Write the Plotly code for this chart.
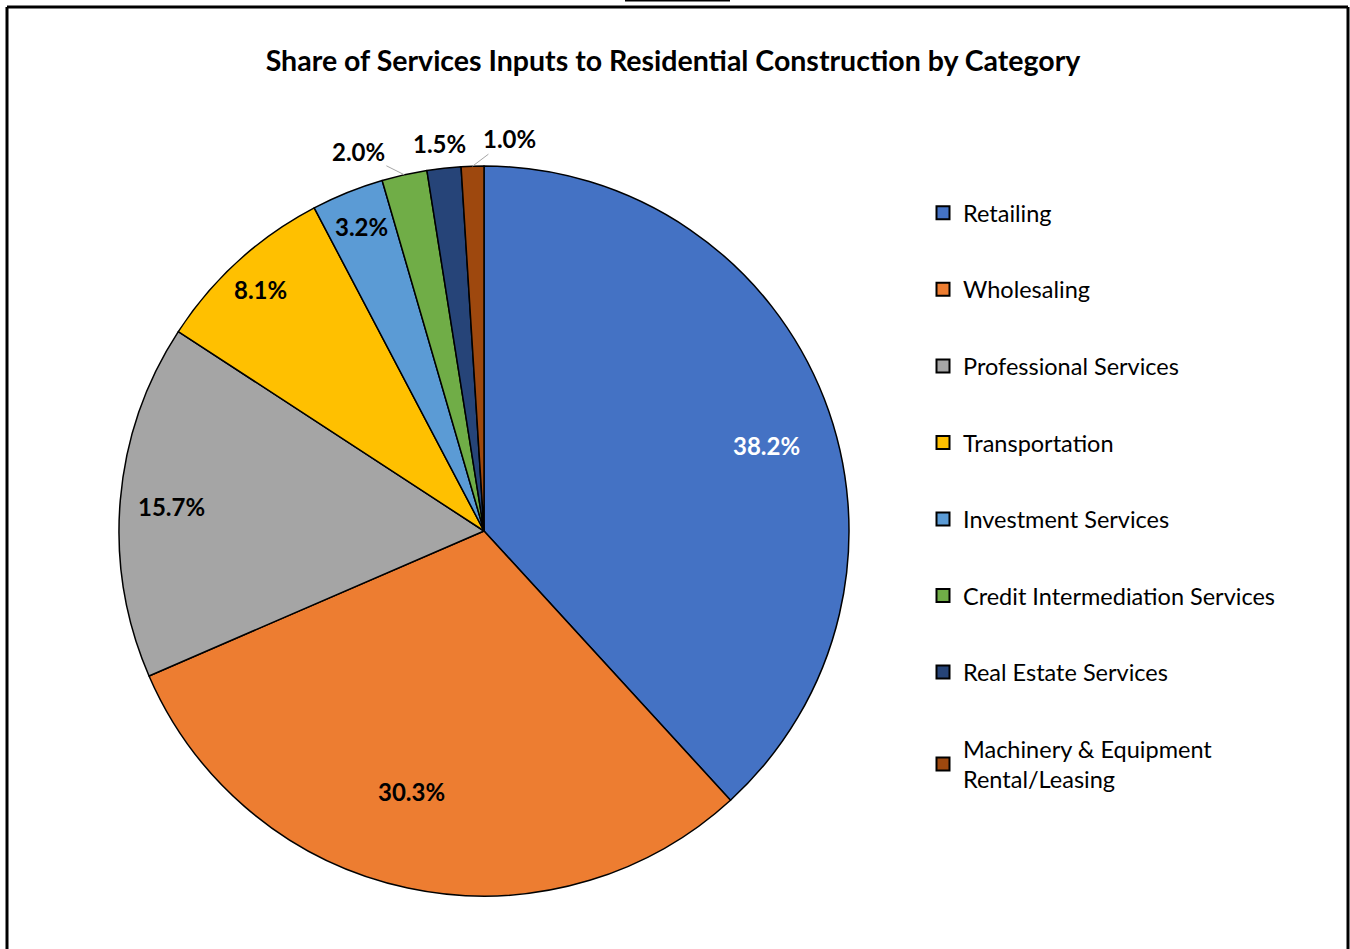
import math
import plotly.graph_objs as go

W, H = 1350, 949

categories = [
    "Retailing",
    "Wholesaling",
    "Professional Services",
    "Transportation",
    "Investment Services",
    "Credit Intermediation Services",
    "Real Estate Services",
    "Machinery & Equipment<br>Rental/Leasing",
]
shares = [38.2, 30.3, 15.7, 8.1, 3.2, 2.0, 1.5, 1.0]
colors = ["#4472C4", "#ED7D31", "#A5A5A5", "#FFC000",
          "#5B9BD5", "#70AD47", "#264478", "#9E480E"]

# pie geometry in pixels
CX, CY, R = 484, 531, 365

# label placement: radial fraction and angle nudge (deg) for inside labels,
# pixel offset (dx, dy) from the slice edge for outside ones
inside_r = [0.81, 0.74, 0.86, 0.90, 0.90]
inside_dang = [4.4, 3.6, -0.3, -0.5, 0.0]
outside_off = [(-46, -23), (-4, -25), (37, -28)]
outside_leader = [True, False, True]


def px_x(v):
    return v / W


def px_y(v):
    return 1 - v / H


fig = go.Figure()

fig.add_trace(go.Pie(
    labels=categories,
    values=shares,
    sort=False,
    direction="clockwise",
    rotation=0,
    marker=dict(colors=colors, line=dict(color="black", width=1.5)),
    textinfo="none",
    domain=dict(x=[px_x(CX - R), px_x(CX + R)], y=[px_y(CY + R), px_y(CY - R)]),
    showlegend=False,
    hoverinfo="label+percent",
))

# data labels, placed around the middle angle of each slice
annotations = []
total = sum(shares)
cum = 0.0
for i, s in enumerate(shares):
    mid = (cum + s / 2) / total * 2 * math.pi
    cum += s
    txt = "<b>%.1f%%</b>" % s
    if i < len(inside_r):
        a = mid + math.radians(inside_dang[i])
        r = inside_r[i] * R
        annotations.append(dict(
            x=px_x(CX + r * math.sin(a)), y=px_y(CY - r * math.cos(a)),
            xref="paper", yref="paper", text=txt, showarrow=False,
            xanchor="center", yanchor="middle",
            font=dict(family="Lato", size=24,
                      color="white" if i == 0 else "black"),
        ))
    else:
        j = i - len(inside_r)
        dx, dy = outside_off[j]
        annotations.append(dict(
            x=px_x(CX + R * math.sin(mid)), y=px_y(CY - R * math.cos(mid)),
            xref="paper", yref="paper", text=txt, showarrow=True,
            ax=dx, ay=dy, arrowhead=0, arrowwidth=1,
            arrowcolor="#A6A6A6" if outside_leader[j] else "rgba(0,0,0,0)",
            font=dict(family="Lato", size=24, color="black"),
        ))

# legend entries, one group each so the gap between them can be set
for name, c in zip(categories, colors):
    fig.add_trace(go.Scatter(
        x=[None], y=[None], mode="markers", name=name, legendgroup=name,
        marker=dict(symbol="square", size=13, color=c,
                    line=dict(color="black", width=2)),
    ))

fig.update_layout(
    width=W, height=H,
    margin=dict(l=0, r=0, t=0, b=0),
    paper_bgcolor="white",
    plot_bgcolor="white",
    title=dict(
        text="<b>Share of Services Inputs to Residential Construction by Category</b>",
        x=px_x(673), xanchor="center", y=px_y(61), yanchor="middle",
        font=dict(family="Lato", size=28.5, color="black"),
    ),
    xaxis=dict(visible=False),
    yaxis=dict(visible=False),
    annotations=annotations,
    legend=dict(
        x=px_x(923), xanchor="left", y=px_y(191), yanchor="top",
        font=dict(family="Lato", size=23.5, color="black"),
        tracegroupgap=43,
        itemwidth=30,
        bgcolor="rgba(0,0,0,0)",
    ),
    shapes=[
        dict(type="line", xref="paper", yref="paper",
             x0=px_x(7), x1=px_x(1348), y0=px_y(7), y1=px_y(7),
             line=dict(color="black", width=3)),
        dict(type="line", xref="paper", yref="paper",
             x0=px_x(7), x1=px_x(7), y0=px_y(7), y1=px_y(960),
             line=dict(color="black", width=3)),
        dict(type="line", xref="paper", yref="paper",
             x0=px_x(1348), x1=px_x(1348), y0=px_y(7), y1=px_y(960),
             line=dict(color="black", width=3)),
        dict(type="line", xref="paper", yref="paper",
             x0=px_x(625), x1=px_x(730), y0=px_y(0.5), y1=px_y(0.5),
             line=dict(color="black", width=2)),
    ],
)

fig.write_html("out.html", config={"displayModeBar": False},
               post_script="document.body.style.margin='0';")
